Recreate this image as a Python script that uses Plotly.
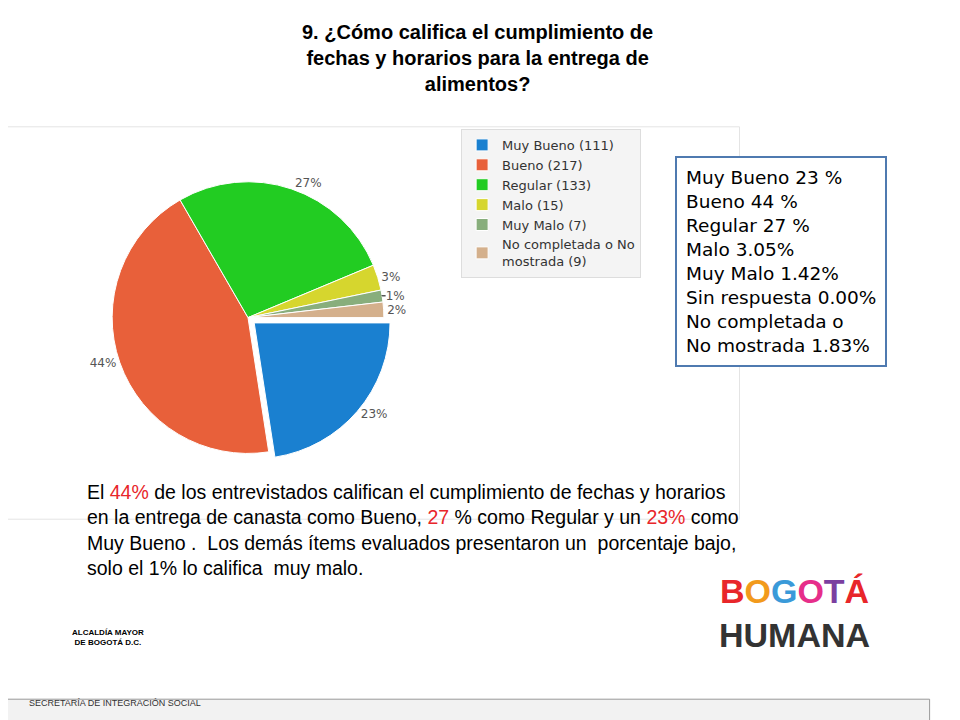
import plotly.graph_objects as go

labels = ["Muy Bueno (111)", "Bueno (217)", "Regular (133)", "Malo (15)", "Muy Malo (7)", "No completada o No<br>mostrada (9)"]
values = [111, 217, 133, 15, 7, 9]
pct_text = ["23%", "44%", "27%", "3%", "1%", "2%"]
colors = ["#1a80d0", "#e8603a", "#22cc22", "#d6d62e", "#88ae7c", "#d4b08c"]
box_lines = ["Muy Bueno 23 %", "Bueno 44 %", "Regular 27 %", "Malo 3.05%", "Muy Malo 1.42%",
             "Sin respuesta 0.00%", "No completada o", "No mostrada 1.83%"]

fig = go.Figure(go.Pie(
    labels=labels, values=values, text=pct_text, textinfo="text", textposition="outside",
    sort=False, direction="clockwise", rotation=90, pull=[0.06, 0, 0, 0, 0, 0],
    marker=dict(colors=colors, line=dict(color="white", width=1)),
    textfont=dict(size=12, color="#555", family="DejaVu Sans"),
    domain=dict(x=[0.03, 0.47], y=[0.37, 0.77]), hoverinfo="skip"))

fig.update_layout(
    width=960, height=720, paper_bgcolor="white", plot_bgcolor="white",
    margin=dict(l=0, r=0, t=0, b=0, autoexpand=False), showlegend=True,
    legend=dict(x=0.472, y=0.832, xanchor="left", yanchor="top", bgcolor="#f4f4f4",
                bordercolor="#dddddd", borderwidth=1, font=dict(size=13, color="#333", family="DejaVu Sans")),
    font=dict(family="Liberation Sans"),
)

fig.add_shape(type="rect", xref="paper", yref="paper", x0=-0.003, x1=0.762, y0=0.29, y1=0.835,
              line=dict(color="#e4e4e4", width=1), layer="below")
fig.add_annotation(xref="paper", yref="paper", x=0.489, y=0.985, yanchor="top", showarrow=False,
                   text="<b>9. ¿Cómo califica el cumplimiento de<br>fechas y horarios para la entrega de<br>alimentos?</b>",
                   font=dict(size=20, color="black", family="Liberation Sans"), align="center")
fig.add_annotation(xref="paper", yref="paper", x=0.695, y=0.794, xanchor="left", yanchor="top",
                   showarrow=False, align="left", text="<br>".join(box_lines),
                   font=dict(size=18.5, color="black", family="DejaVu Sans"),
                   bordercolor="#4f7ab0", borderwidth=2, borderpad=9, bgcolor="white")
red = "#e8262a"
para = ("El <span style='color:%s'>44%%</span> de los entrevistados califican el cumplimiento de fechas y horarios<br>"
        "en la entrega de canasta como Bueno, <span style='color:%s'>27</span> %% como Regular y un <span style='color:%s'>23%%</span> como<br>"
        "Muy Bueno .  Los demás ítems evaluados presentaron un  porcentaje bajo,<br>"
        "solo el 1%% lo califica  muy malo.") % (red, red, red)
fig.add_annotation(xref="paper", yref="paper", x=0.08, y=0.346, xanchor="left", yanchor="top",
                   showarrow=False, align="left", text=para,
                   font=dict(size=19.5, color="black", family="Liberation Sans"))
fig.add_annotation(xref="paper", yref="paper", x=0.065, y=0.11, showarrow=False,
                   text="<b>ALCALDÍA MAYOR<br>DE BOGOTÁ D.C.</b>", font=dict(size=8, color="black"))
fig.add_annotation(xref="paper", yref="paper", x=0.9, y=0.1, showarrow=False,
                   text="<b><span style='color:#e8262a'>B</span><span style='color:#f29a1c'>O</span><span style='color:#3a9ad9'>G</span><span style='color:#e62e8a'>O</span><span style='color:#7b3fa0'>T</span><span style='color:#e8262a'>Á</span><br><span style='color:#333'>HUMANA</span></b>",
                   font=dict(size=34, family="Liberation Sans"))
fig.add_shape(type="rect", xref="paper", yref="paper", x0=-0.01, x1=0.96, y0=0.01, y1=0.04,
              line=dict(color="#999", width=1), fillcolor="#f2f2f2")
fig.add_annotation(xref="paper", yref="paper", x=0.02, y=0.025, xanchor="left", showarrow=False,
                   text="SECRETARÍA DE INTEGRACIÓN SOCIAL", font=dict(size=9, color="#333"))

fig.write_html("out.html")
